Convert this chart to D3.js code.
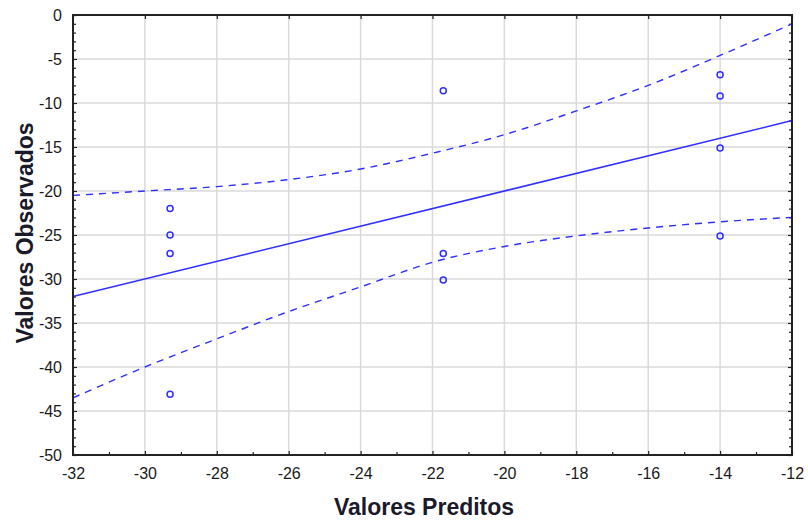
<!DOCTYPE html>
<html>
<head>
<meta charset="utf-8">
<script src="https://cdn.jsdelivr.net/npm/d3@7"></script>
<style>
  body { margin: 0; background: #fff; }
  svg { display: block; font-family: "Liberation Sans", Arial, sans-serif; }
</style>
</head>
<body>
<svg id="chart" width="808" height="520"></svg>
<script>
// observed vs predicted values
const predicted = [-29.3, -29.3, -29.3, -29.3, -21.7, -21.7, -21.7, -14, -14, -14, -14];
const observed = [-22, -25, -27.1, -43.1, -8.6, -27.1, -30.1, -6.8, -9.2, -15.1, -25.1];

// fitted line and confidence band
const fitX = [-32, -12];
const fitY = [-32, -12];
const bandX = [-32, -30, -28, -26, -24, -22, -20, -18, -16, -14, -12];
const bandUpper = [-20.5, -20.0, -19.5, -18.7, -17.5, -15.7, -13.6, -10.9, -8.0, -4.6, -1.0];
const bandLower = [-43.5, -40.0, -36.8, -33.7, -30.9, -28.1, -26.3, -25.1, -24.2, -23.5, -23.0];

const xTickLabels = [-32, -30, -28, -26, -24, -22, -20, -18, -16, -14, -12];
const yTickLabels = [0, -5, -10, -15, -20, -25, -30, -35, -40, -45, -50];

const dims = { width: 808, height: 520, left: 73, right: 792, top: 15, bottom: 455 };
const blue = "#2f2fff";

const svg = d3.select("#chart");

const x = d3.scaleLinear().domain([-32, -12]).range([dims.left, dims.right]);
const y = d3.scaleLinear().domain([-50, 0]).range([dims.bottom, dims.top]);

// plain hyphen minus, like the original
const fmt = (d) => String(d);

// grid
const gGrid = svg.append("g").attr("stroke", "#dadada").attr("stroke-width", 1.5);
gGrid.selectAll(".gx")
  .data(xTickLabels.slice(1, -1))
  .join("line")
  .attr("x1", (d) => x(d)).attr("x2", (d) => x(d))
  .attr("y1", dims.top).attr("y2", dims.bottom);
gGrid.selectAll(".gy")
  .data(yTickLabels.slice(1, -1))
  .join("line")
  .attr("y1", (d) => y(d)).attr("y2", (d) => y(d))
  .attr("x1", dims.left).attr("x2", dims.right);

// axes, ticks pointing inward
const minorX = d3.range(-31, -12, 2);
const minorY = d3.range(-49, 0, 1).filter((v) => v % 5 !== 0);

const axisStyle = (g) => {
  g.select(".domain").remove();
  g.selectAll(".tick line").attr("stroke", "#222").attr("stroke-width", 1.2);
  g.selectAll(".tick text").attr("fill", "#1a1a1a").attr("font-size", 16);
};

svg.append("g")
  .attr("transform", `translate(0,${dims.bottom})`)
  .call(d3.axisBottom(x).tickValues(xTickLabels).tickSizeInner(-4).tickPadding(13).tickFormat(fmt))
  .call(axisStyle);
svg.append("g")
  .attr("transform", `translate(0,${dims.bottom})`)
  .call(d3.axisBottom(x).tickValues(minorX).tickSizeInner(-3).tickFormat(""))
  .call(axisStyle);
svg.append("g")
  .attr("transform", `translate(0,${dims.top})`)
  .call(d3.axisTop(x).tickValues(xTickLabels).tickSizeInner(-4).tickFormat(""))
  .call(axisStyle);

svg.append("g")
  .attr("transform", `translate(${dims.left},0)`)
  .call(d3.axisLeft(y).tickValues(yTickLabels).tickSizeInner(-4).tickPadding(11).tickFormat(fmt))
  .call(axisStyle);
svg.append("g")
  .attr("transform", `translate(${dims.left},0)`)
  .call(d3.axisLeft(y).tickValues(minorY).tickSizeInner(-3).tickFormat(""))
  .call(axisStyle);
svg.append("g")
  .attr("transform", `translate(${dims.right},0)`)
  .call(d3.axisRight(y).tickValues(yTickLabels).tickSizeInner(-4).tickFormat(""))
  .call(axisStyle);
svg.append("g")
  .attr("transform", `translate(${dims.right},0)`)
  .call(d3.axisRight(y).tickValues(minorY).tickSizeInner(-3).tickFormat(""))
  .call(axisStyle);

// data layer
const gPlot = svg.append("g");

gPlot.append("path")
  .datum(d3.zip(fitX, fitY))
  .attr("fill", "none")
  .attr("stroke", blue)
  .attr("stroke-width", 1.5)
  .attr("d", d3.line().x((d) => x(d[0])).y((d) => y(d[1])));

const bandLine = d3.line().curve(d3.curveMonotoneX).x((d) => x(d[0])).y((d) => y(d[1]));
[bandUpper, bandLower].forEach((band) => {
  gPlot.append("path")
    .datum(d3.zip(bandX, band))
    .attr("fill", "none")
    .attr("stroke", blue)
    .attr("stroke-width", 1.4)
    .attr("stroke-dasharray", "7,6")
    .attr("d", bandLine);
});

gPlot.selectAll(".point")
  .data(d3.zip(predicted, observed))
  .join("circle")
  .attr("class", "point")
  .attr("cx", (d) => x(d[0]))
  .attr("cy", (d) => y(d[1]))
  .attr("r", 3)
  .attr("fill", "none")
  .attr("stroke", blue)
  .attr("stroke-width", 1.5);

// frame
svg.append("rect")
  .attr("x", dims.left).attr("y", dims.top)
  .attr("width", dims.right - dims.left).attr("height", dims.bottom - dims.top)
  .attr("fill", "none")
  .attr("stroke", "#222")
  .attr("stroke-width", 2);

// axis titles
svg.append("text")
  .attr("x", 424).attr("y", 515)
  .attr("text-anchor", "middle")
  .attr("font-size", 23).attr("font-weight", "bold")
  .attr("fill", "#1a1a2a")
  .text("Valores Preditos");
svg.append("text")
  .attr("transform", `translate(33,${(dims.top + dims.bottom) / 2 - 2}) rotate(-90)`)
  .attr("text-anchor", "middle")
  .attr("font-size", 23).attr("font-weight", "bold")
  .attr("fill", "#1a1a2a")
  .text("Valores Observados");
</script>
</body>
</html>
